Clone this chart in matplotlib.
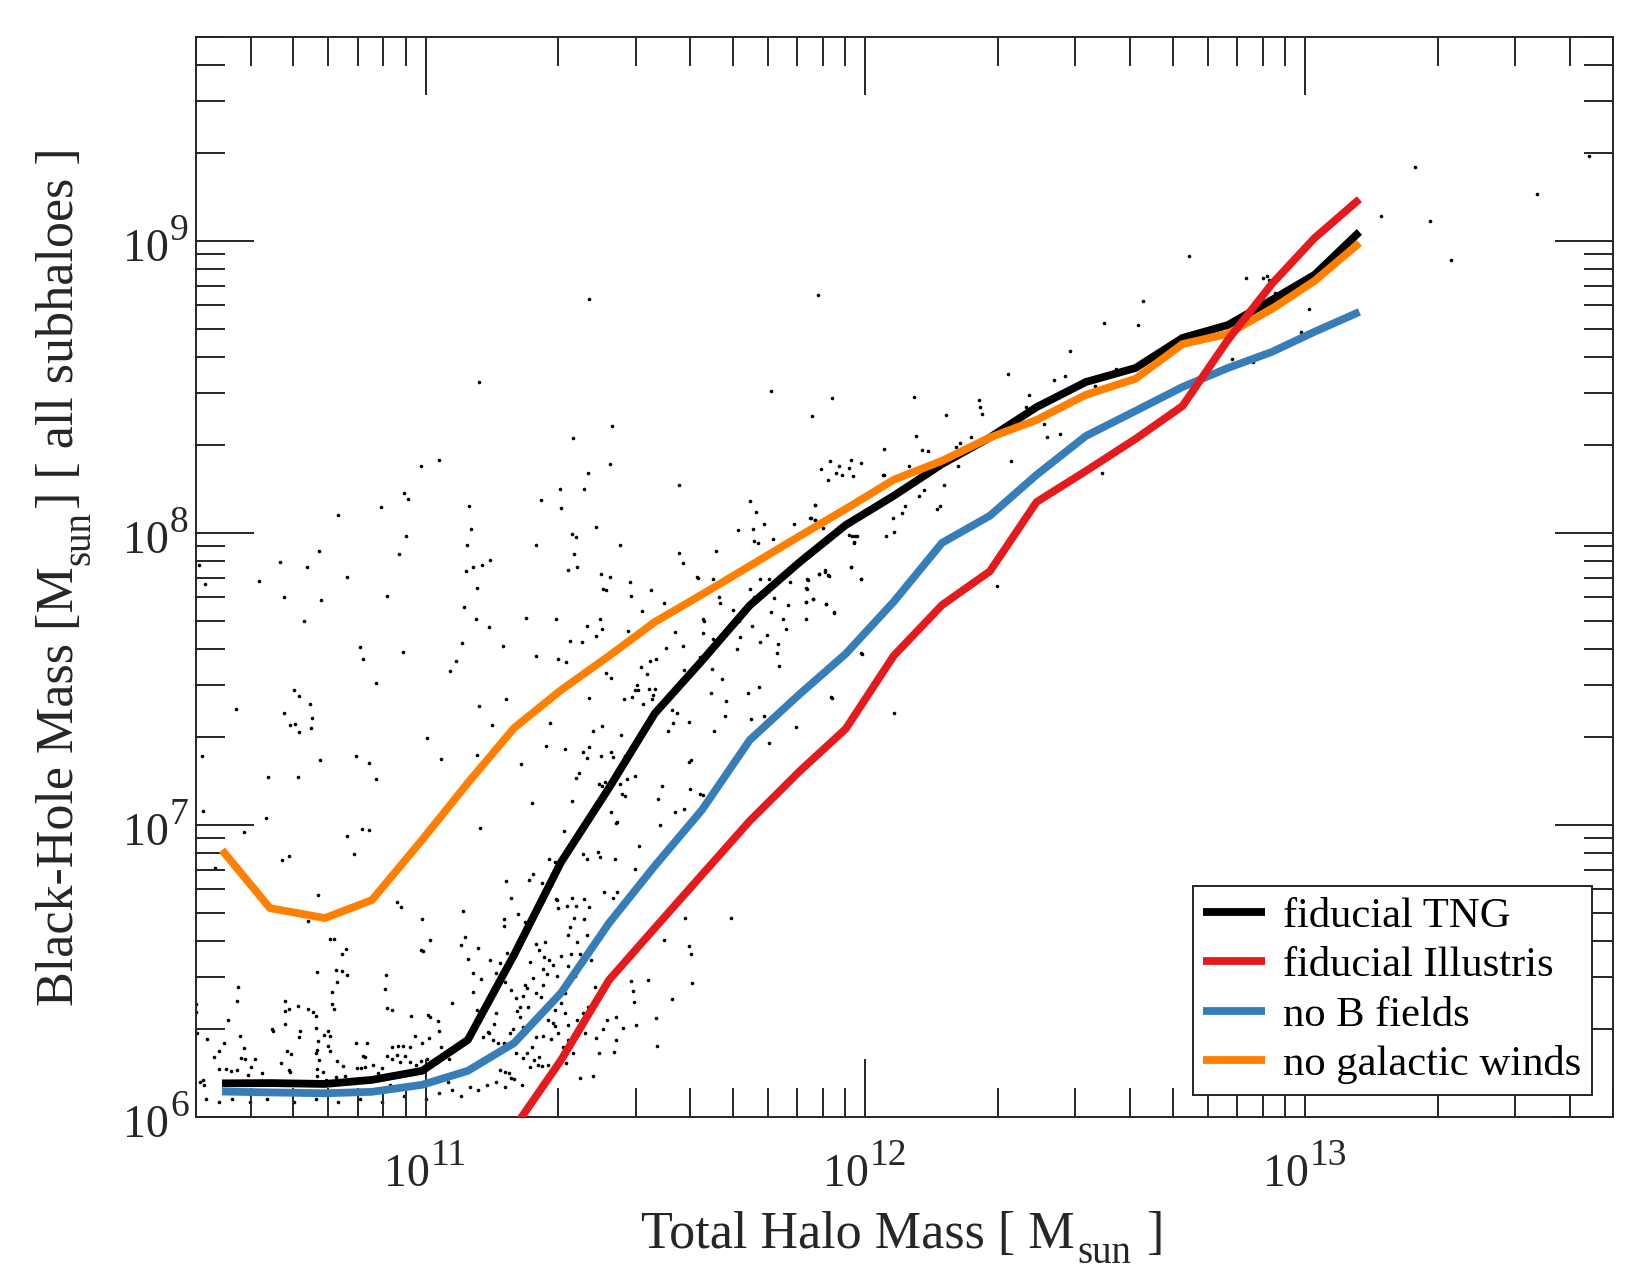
import numpy as np
import matplotlib
matplotlib.use("Agg")
import matplotlib.pyplot as plt
from matplotlib.ticker import LogLocator, NullFormatter
from matplotlib.transforms import IdentityTransform

plt.rcParams["font.family"] = ["Liberation Serif", "DejaVu Serif"]

AXCOL = "#262626"

# median relations, log10 of halo mass / black-hole mass [Msun]
log_mhalo = [10.537, 10.646, 10.771, 10.878, 10.992, 11.096, 11.201, 11.308, 11.417,
             11.521, 11.628, 11.737, 11.851, 11.955, 12.064, 12.174, 12.283, 12.389,
             12.501, 12.614, 12.721, 12.824, 12.924, 13.021, 13.123]

tng_fid = [6.114, 6.115, 6.112, 6.126, 6.157, 6.263, 6.554, 6.872, 7.126, 7.381, 7.561,
           7.751, 7.900, 8.026, 8.126, 8.235, 8.326, 8.430, 8.516, 8.564, 8.667, 8.711,
           8.797, 8.883, 9.030]
illustris = [5.961, 6.194, 6.468, 6.646, 6.828, 7.013, 7.184, 7.328, 7.578, 7.752, 7.868,
             8.105, 8.211, 8.321, 8.434, 8.660, 8.852, 9.009, 9.142]   # from log_mhalo[6:]
no_bfield = [6.086, 6.083, 6.080, 6.085, 6.109, 6.157, 6.252, 6.424, 6.663, 6.859, 7.050,
             7.290, 7.448, 7.585, 7.763, 7.965, 8.058, 8.198, 8.331, 8.417, 8.499, 8.564,
             8.619, 8.688, 8.756]
no_winds = [6.913, 6.714, 6.680, 6.742, 6.948, 7.143, 7.331, 7.461, 7.578, 7.694, 7.788,
            7.886, 7.989, 8.081, 8.181, 8.246, 8.326, 8.386, 8.472, 8.527, 8.646, 8.681,
            8.766, 8.862, 8.992]

series_labels = ["fiducial TNG", "fiducial Illustris", "no B fields", "no galactic winds"]
series_colors = ["#000000", "#e41a1c", "#377eb8", "#ff7f00"]

x_tick_exp = [11, 12, 13]
y_tick_exp = [6, 7, 8, 9]

# individual subhaloes (log10 Mhalo, log10 MBH)
subhaloes = [
    (10.485, 7.889), (10.499, 7.823), (10.620, 7.836), (10.669, 7.899), (10.677, 7.778),
    (10.730, 7.883), (10.758, 7.936), (10.761, 7.769), (10.723, 7.696), (10.800, 8.060),
    (10.821, 7.848), (10.899, 8.088), (10.912, 7.783), (10.951, 8.135), (10.959, 8.115),
    (10.955, 7.988), (10.940, 7.926), (10.990, 8.227), (11.031, 8.249), (10.851, 7.609),
    (10.858, 7.569), (10.949, 7.592), (10.888, 7.485), (11.056, 7.527), (11.068, 7.559),
    (11.082, 7.622), (11.088, 7.746), (11.091, 7.869), (11.098, 8.091), (11.102, 8.011),
    (11.093, 7.959), (11.107, 7.881), (11.127, 7.890), (11.147, 7.906), (11.117, 7.810),
    (11.114, 7.706), (11.145, 7.676), (11.175, 7.612), (11.121, 7.408), (11.183, 7.430),
    (11.150, 7.342), (11.003, 7.297), (11.035, 7.226), (11.116, 7.237), (10.569, 7.395),
    (10.700, 7.462), (10.712, 7.440), (10.738, 7.413), (10.678, 7.384), (10.692, 7.343),
    (10.702, 7.344), (10.711, 7.318), (10.739, 7.331), (10.742, 7.366), (10.492, 7.234),
    (10.642, 7.164), (10.709, 7.162), (10.759, 7.220), (10.842, 7.236), (10.872, 7.211),
    (10.886, 7.158), (10.493, 7.048), (10.638, 7.024), (10.588, 6.975), (10.674, 6.880),
    (10.689, 6.892), (10.520, 6.851), (10.756, 6.759), (10.822, 6.960), (10.837, 6.900),
    (10.856, 6.986), (10.872, 6.983), (11.124, 6.987), (11.252, 7.959), (11.263, 8.111),
    (11.305, 8.149), (11.308, 8.086), (11.334, 8.324), (11.361, 8.148), (11.369, 8.205),
    (11.423, 8.367), (11.419, 8.234), (11.388, 8.020), (11.442, 7.958), (11.333, 7.995),
    (11.342, 7.986), (11.337, 7.928), (11.323, 7.871), (11.344, 7.882), (11.398, 7.858),
    (11.420, 7.847), (11.403, 7.807), (11.409, 7.803), (11.464, 7.831), (11.466, 7.784),
    (11.512, 7.803), (11.491, 7.731), (11.459, 7.663), (11.228, 7.709), (11.297, 7.703),
    (11.366, 7.679), (11.396, 7.706), (11.401, 7.671), (11.387, 7.646), (11.328, 7.629),
    (11.355, 7.624), (11.252, 7.576), (11.300, 7.569), (11.318, 7.557), (11.409, 7.520),
    (11.422, 7.502), (11.490, 7.541), (11.503, 7.516), (11.509, 7.559), (11.523, 7.568),
    (11.481, 7.477), (11.475, 7.461), (11.482, 7.462), (11.507, 7.464), (11.521, 7.465),
    (11.516, 7.445), (11.515, 7.431), (11.495, 7.413), (11.470, 7.438), (11.450, 7.430),
    (11.371, 7.433), (11.282, 7.348), (11.274, 7.269), (11.317, 7.259), (11.216, 7.209),
    (11.242, 7.073), (11.332, 7.080), (11.357, 7.248), (11.367, 7.227), (11.372, 7.265),
    (11.398, 7.236), (11.422, 7.248), (11.425, 7.232), (11.453, 7.236), (11.381, 7.322),
    (11.400, 7.338), (11.445, 7.308), (11.315, 6.977), (11.357, 6.899), (11.366, 6.882),
    (11.392, 6.908), (11.397, 6.889), (11.430, 6.882), (11.476, 6.849), (11.486, 6.926),
    (11.406, 6.771), (11.434, 6.771), (11.528, 7.087), (11.538, 7.132), (11.533, 6.999),
    (11.567, 7.042), (11.552, 7.321), (11.559, 7.394), (11.572, 7.381), (11.563, 7.348),
    (11.568, 7.660), (11.547, 7.605), (11.542, 7.759), (11.575, 8.163), (11.575, 7.929),
    (11.393, 7.138), (11.400, 7.132), (11.408, 7.145), (11.424, 7.152), (11.443, 7.139),
    (11.457, 7.155), (11.477, 7.165), (11.440, 7.176), (11.446, 7.104), (11.453, 7.099),
    (11.436, 7.010), (11.433, 7.004), (11.422, 7.044), (11.341, 7.160), (11.348, 7.176),
    (11.280, 6.883), (11.293, 6.873), (11.265, 6.800), (11.243, 6.832), (11.234, 6.809),
    (11.182, 6.807), (11.195, 6.750), (11.297, 6.744), (11.332, 6.748), (11.359, 6.745),
    (11.425, 6.749),
    # low-mass crowd
    (10.732, 6.671), (10.782, 6.607), (10.792, 6.607), (10.810, 6.558), (10.820, 6.575),
    (10.753, 6.495), (10.796, 6.502), (10.809, 6.498), (10.822, 6.486), (10.799, 6.460),
    (10.788, 6.427), (10.786, 6.385), (10.791, 6.370), (10.779, 6.295), (10.782, 6.276),
    (10.769, 6.280), (10.756, 6.260), (10.754, 6.228), (10.751, 6.217), (10.757, 6.194),
    (10.778, 6.243), (10.782, 6.225), (10.798, 6.192), (10.813, 6.174), (10.752, 6.164),
    (10.754, 6.139), (10.767, 6.153), (10.773, 6.127), (10.796, 6.137), (10.817, 6.139),
    (10.574, 6.443), (10.572, 6.397), (10.551, 6.332), (10.578, 6.276), (10.586, 6.236),
    (10.581, 6.202), (10.590, 6.196), (10.613, 6.199), (10.604, 6.171), (10.596, 6.144),
    (10.570, 6.161), (10.558, 6.156), (10.545, 6.164), (10.531, 6.162), (10.519, 6.205),
    (10.531, 6.225), (10.542, 6.251), (10.494, 6.126), (10.497, 6.108), (10.481, 6.285),
    (10.502, 6.265), (10.478, 6.386), (10.478, 6.360), (10.487, 6.120), (10.650, 6.299),
    (10.652, 6.295), (10.680, 6.395), (10.690, 6.369), (10.680, 6.361), (10.681, 6.318),
    (10.710, 6.379), (10.733, 6.368), (10.744, 6.358), (10.751, 6.345), (10.751, 6.304),
    (10.714, 6.295), (10.713, 6.273), (10.684, 6.226), (10.693, 6.216), (10.690, 6.160),
    (10.672, 6.183), (10.664, 6.120), (10.628, 6.151), (10.646, 6.120), (10.691, 6.154),
    (10.909, 6.486), (10.908, 6.436), (10.913, 6.373), (10.923, 6.364), (10.934, 6.734),
    (10.945, 6.718), (10.992, 6.676), (11.010, 6.605), (10.990, 6.570), (10.993, 6.569),
    (10.966, 6.345), (11.006, 6.348), (11.011, 6.341), (11.029, 6.328), (11.031, 6.295),
    (11.007, 6.269), (10.992, 6.253), (10.976, 6.276), (10.964, 6.240), (10.949, 6.242),
    (10.937, 6.243), (10.923, 6.240), (10.913, 6.207), (10.923, 6.196), (10.858, 6.208),
    (10.863, 6.203), (10.854, 6.166), (10.861, 6.169), (10.867, 6.251), (10.841, 6.251),
    (10.843, 6.166), (10.881, 6.177), (10.901, 6.166), (10.892, 6.148), (10.934, 6.210),
    (10.941, 6.186), (10.954, 6.207), (10.964, 6.188), (10.977, 6.177), (10.989, 6.190),
    (11.004, 6.196), (11.010, 6.177), (11.023, 6.185), (11.036, 6.240), (11.053, 6.199),
    (11.059, 6.388), (11.080, 6.588), (11.085, 6.704), (11.089, 6.614), (11.096, 6.540),
    (11.107, 6.491), (11.108, 6.427), (11.116, 6.365), (11.125, 6.470), (11.120, 6.577),
    (11.130, 6.274), (11.142, 6.290), (11.144, 6.285), (11.155, 6.317), (11.160, 6.354),
    (11.154, 6.263), (11.164, 6.251), (11.177, 6.253), (11.169, 6.160), (11.181, 6.154),
    (11.189, 6.148), (11.195, 6.134), (11.205, 6.217), (11.192, 6.285), (11.198, 6.299),
    (11.207, 6.363), (11.214, 6.377), (11.225, 6.451), (11.233, 6.377), (11.230, 6.217),
    (11.222, 6.200), (11.237, 6.171), (11.247, 6.194), (11.256, 6.177), (11.264, 6.174),
    (11.274, 6.126), (11.279, 6.177), (11.284, 6.265), (11.289, 6.321), (11.295, 6.365),
    (11.307, 6.390), (11.317, 6.422), (11.324, 6.516), (11.331, 6.557), (11.340, 6.482),
    (11.343, 6.597), (11.351, 6.556), (11.360, 6.676), (11.366, 6.621), (11.371, 6.717),
    (11.377, 6.537), (11.385, 6.445), (11.387, 6.269), (11.380, 6.140), (11.393, 6.219),
    (11.404, 6.299), (11.412, 6.331), (11.177, 6.678), (11.178, 6.653), (11.210, 6.693),
    (11.225, 6.666), (11.298, 6.742), (11.302, 6.714), (11.321, 6.723), (11.324, 6.622),
    (11.328, 6.651), (11.342, 6.721), (11.338, 6.679), (11.184, 6.559), (11.170, 6.527),
    (11.173, 6.495), (11.180, 6.462), (11.160, 6.493), (11.151, 6.422), (11.146, 6.537),
    (11.252, 6.591), (11.258, 6.572), (11.272, 6.599), (11.270, 6.548), (11.280, 6.537),
    (11.267, 6.506), (11.277, 6.489), (11.289, 6.519), (11.299, 6.482), (11.308, 6.551),
    (11.243, 6.475), (11.237, 6.531), (11.230, 6.442), (11.195, 6.434), (11.205, 6.405),
    (11.222, 6.413), (11.252, 6.425), (11.262, 6.411), (11.267, 6.451), (11.278, 6.331),
    (11.294, 6.311), (11.266, 6.276), (11.252, 6.274), (11.241, 6.240), (11.258, 6.205),
    (11.222, 6.308), (11.214, 6.340), (11.317, 6.354), (11.323, 6.314), (11.301, 6.285),
    (11.324, 6.263), (11.313, 6.240), (11.298, 6.188), (11.319, 6.183), (11.336, 6.217),
    (11.351, 6.131), (11.362, 6.285), (11.345, 6.331), (11.358, 6.354), (11.368, 6.377),
    (10.500, 6.060), (10.530, 6.050), (10.560, 6.060), (10.600, 6.050), (10.640, 6.060),
    (10.700, 6.050), (10.750, 6.060), (10.800, 6.050), (10.850, 6.060), (10.900, 6.050),
    (10.950, 6.070), (11.000, 6.060), (11.030, 6.080), (11.060, 6.090), (11.080, 6.070),
    (11.100, 6.100), (11.120, 6.090), (11.140, 6.110), (11.160, 6.120), (11.180, 6.100),
    (11.200, 6.130), (11.220, 6.110), (10.970, 6.100), (10.920, 6.110), (11.050, 6.120),
    # intermediate masses
    (11.886, 8.096), (11.877, 8.051), (11.885, 8.044), (11.837, 8.028), (11.770, 8.030),
    (11.790, 7.980), (11.745, 8.014), (11.746, 7.972), (11.756, 7.963), (11.752, 8.071),
    (11.710, 8.010), (11.737, 8.108), (11.660, 7.938), (11.586, 7.895), (11.616, 7.848),
    (11.620, 7.846), (11.654, 7.840), (11.699, 7.734), (11.667, 7.779), (11.670, 7.759),
    (11.712, 7.697), (11.714, 7.643), (11.708, 7.602), (11.740, 7.892), (11.737, 7.806),
    (11.760, 7.840), (11.781, 7.840), (11.793, 7.776), (11.785, 7.727), (11.746, 7.779),
    (11.742, 7.680), (11.761, 7.625), (11.775, 7.650), (11.801, 7.620), (11.799, 7.589),
    (11.804, 7.544), (11.813, 7.704), (11.819, 7.669), (11.823, 7.752), (11.829, 7.831),
    (11.866, 7.840), (11.867, 7.806), (11.864, 7.761), (11.881, 7.772), (11.895, 7.858),
    (11.908, 7.867), (11.915, 7.854), (11.910, 7.755), (11.929, 7.726), (11.970, 7.990),
    (11.977, 7.987), (11.974, 7.965), (11.967, 7.884), (11.990, 7.843), (11.991, 7.586),
    (11.923, 7.435), (11.842, 7.333), (11.781, 7.280), (11.757, 7.473), (11.733, 7.450),
    (11.770, 7.371), (11.739, 7.362), (11.682, 7.423), (11.673, 7.498), (11.648, 7.450),
    (11.623, 7.574), (11.654, 7.636), (11.631, 7.704), (11.633, 7.697), (11.631, 7.657),
    (11.586, 7.613), (11.599, 7.351), (11.655, 7.321), (11.651, 7.532), (11.681, 7.371),
    (11.588, 7.528), (11.623, 7.106), (11.631, 7.102), (11.604, 7.222), (11.599, 7.215),
    (11.601, 7.123), (11.587, 7.055), (11.589, 6.682), (11.695, 6.682), (11.599, 6.583),
    (11.604, 6.556), (11.605, 6.457), (11.559, 6.404), (11.523, 6.339), (11.526, 6.241),
    (11.543, 6.606), (11.506, 6.468), (11.472, 6.430), (11.473, 6.392), (11.478, 6.315),
    (11.448, 6.302), (11.429, 6.223), (11.432, 6.264), (11.432, 6.340), (11.466, 6.466),
    # towards Milky-Way masses and above
    (11.891, 8.815), (11.924, 8.460), (11.879, 8.399), (12.110, 8.463), (12.114, 8.332),
    (12.183, 8.402), (12.257, 8.454), (12.261, 8.432), (12.265, 8.405), (12.240, 8.326),
    (12.216, 8.308), (12.205, 8.295), (12.210, 8.227), (12.178, 8.163), (12.163, 8.081),
    (12.169, 8.091), (12.158, 8.246), (12.143, 8.279), (12.128, 8.283), (12.121, 8.127),
    (12.133, 8.145), (12.098, 8.228), (12.090, 8.092), (12.083, 8.068), (12.062, 8.051),
    (12.064, 8.002), (12.046, 7.990), (12.039, 8.197), (12.043, 8.197), (12.041, 8.288),
    (11.990, 8.238), (11.972, 8.193), (11.966, 8.250), (11.963, 8.222), (11.940, 8.230),
    (11.934, 8.206), (11.946, 8.197), (11.920, 8.244), (11.899, 8.219), (11.914, 8.179),
    (11.904, 8.015), (11.886, 8.095), (11.875, 8.051), (11.886, 8.042), (11.963, 7.992),
    (11.974, 7.969), (11.981, 7.990), (11.968, 7.884), (11.990, 7.843), (11.908, 7.871),
    (11.916, 7.853), (11.894, 7.859), (11.869, 7.837), (11.865, 7.809), (11.880, 7.773),
    (11.865, 7.761), (11.910, 7.755), (11.929, 7.727), (11.864, 7.705), (11.922, 7.437),
    (11.989, 7.588), (12.065, 7.383), (12.299, 7.818), (12.330, 8.246), (12.325, 8.544),
    (12.371, 8.473), (12.365, 8.430), (12.405, 8.371), (12.412, 8.326), (12.442, 8.338),
    (12.428, 8.522), (12.454, 8.536), (12.465, 8.623), (12.538, 8.204), (12.543, 8.717),
    (12.569, 8.561), (12.620, 8.711), (12.632, 8.794), (12.510, 8.473), (12.523, 8.501),
    (12.671, 8.626), (12.834, 8.596), (12.880, 8.585), (12.865, 8.871), (12.736, 8.948),
    (11.121, 8.516), (11.372, 8.801), (11.786, 8.484),
    (13.171, 9.084), (13.250, 9.252), (13.284, 9.067), (13.331, 8.934), (13.526, 9.159),
    (13.646, 9.290), (13.008, 8.765), (12.991, 8.688), (13.002, 8.685), (12.904, 8.871),
    (12.914, 8.879), (12.917, 8.866), (12.932, 8.822), (12.915, 8.800),
]

sub = np.array(subhaloes)
mh = 10 ** np.array(log_mhalo)

W, H = 1650, 1275
fig = plt.figure(figsize=(W / 100, H / 100), dpi=100)
ax = fig.add_axes([0.1186, 0.1242, 0.8588, 0.8471])

ax.plot(10 ** sub[:, 0], 10 ** sub[:, 1], "o", ms=2.6, color="black",
        mec="none", zorder=1)

kw = dict(lw=5.6, solid_capstyle="butt", solid_joinstyle="round")
h_tng, = ax.plot(mh, 10 ** np.array(tng_fid), color=series_colors[0], zorder=2, **kw)
h_nob, = ax.plot(mh, 10 ** np.array(no_bfield), color=series_colors[2], zorder=3, **kw)
h_now, = ax.plot(mh, 10 ** np.array(no_winds), color=series_colors[3], zorder=4, **kw)
h_ill, = ax.plot(mh[6:], 10 ** np.array(illustris), color=series_colors[1], zorder=5, **kw)

ax.set_xscale("log")
ax.set_yscale("log")
ax.set_xlim(3e10, 5e13)
ax.set_ylim(1e6, 5e9)

for axis in (ax.xaxis, ax.yaxis):
    axis.set_major_locator(LogLocator(base=10, numticks=50))
    axis.set_minor_locator(LogLocator(base=10, subs=np.arange(2, 10), numticks=50))
    axis.set_minor_formatter(NullFormatter())

ax.tick_params(which="both", direction="in", top=True, right=True,
               color=AXCOL, width=1.4, labelbottom=False, labelleft=False)
ax.tick_params(which="major", length=41.8)
ax.tick_params(which="minor", length=21)
for s in ax.spines.values():
    s.set_color(AXCOL)
    s.set_linewidth(1.4)

# text built from pieces so that sub/superscripts sit like in the original
renderer = fig.canvas.get_renderer()


def text_width(s, size):
    t = fig.text(0, 0, s, fontsize=size)
    w = t.get_window_extent(renderer).width
    t.remove()
    return w


def put_pieces(pieces, x, y, ha="center", rot=0):
    # pieces: (text, fontsize, rise_px, gap_px); x, y in pixels (baseline)
    widths = [text_width(p[0], p[1]) for p in pieces]
    total = sum(w + p[3] for w, p in zip(widths, pieces)) - pieces[-1][3]
    pos = {"center": -total / 2, "right": -total, "left": 0}[ha]
    for (s, size, rise, gap), w in zip(pieces, widths):
        if rot == 0:
            px, py = x + pos, y + rise
        else:
            px, py = x - rise, y + pos
        fig.text(px, py, s, fontsize=size, color=AXCOL, ha="left", va="baseline",
                 rotation=rot, rotation_mode="anchor", transform=IdentityTransform())
        pos += w + gap


TICK_FS, SUP_FS, SUP_RISE = 33, 27, 21
for e in x_tick_exp:
    xd = ax.transData.transform((10.0 ** e, 1e6))[0]
    put_pieces([("10", TICK_FS, 0, 1), (str(e), SUP_FS, SUP_RISE, 0)], xd, H - 1186)
x_right = ax.transAxes.transform((0, 0))[0] - 7
for e in y_tick_exp:
    yd = ax.transData.transform((1e11, 10.0 ** e))[1]
    put_pieces([("10", TICK_FS, 0, 1), (str(e), SUP_FS, SUP_RISE, 0)],
               x_right, yd - 20, ha="right")

LAB_FS, SUB_FS = 37.5, 28
xc = ax.transAxes.transform((0.5, 0))[0] - 2
put_pieces([("Total Halo Mass [ M", LAB_FS, 0, 3), ("sun", SUB_FS, -15, 14),
            ("]", LAB_FS, 0, 0)], xc, H - 1248)
yc = ax.transAxes.transform((0, 0.5))[1]
put_pieces([("Black-Hole Mass [M", LAB_FS, 0, 2), ("sun", SUB_FS, -16, 2),
            ("] [ all subhaloes ]", LAB_FS, 0, 0)], 73, yc, rot=90)

leg = ax.legend([h_tng, h_ill, h_nob, h_now], series_labels, loc="lower right",
                bbox_to_anchor=(0.9854, 0.0201), borderaxespad=0, fontsize=30.7,
                frameon=True, fancybox=False, edgecolor=AXCOL, framealpha=1,
                handlelength=1.45, handletextpad=0.42, labelspacing=0.25,
                borderpad=0.25)
leg.get_frame().set_linewidth(1.4)

fig.savefig("out.png", dpi=100)
